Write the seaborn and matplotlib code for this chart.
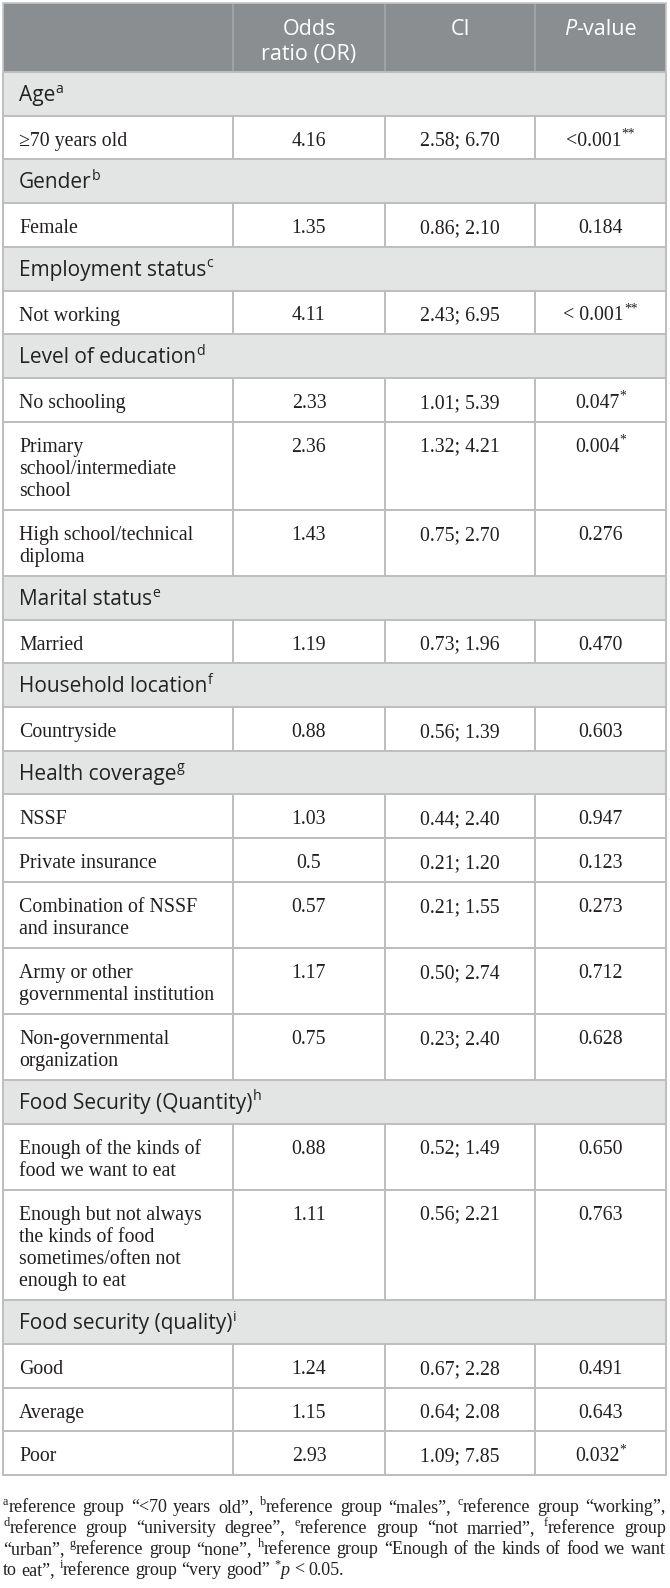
import numpy as np
import matplotlib
matplotlib.use("Agg")
import matplotlib.pyplot as plt
import seaborn as sns
from matplotlib.patches import Rectangle

# table content
header_labels = ["Odds\nratio (OR)", "CI", "P-value"]

section_names = ["Age", "Gender", "Employment status", "Level of education",
                 "Marital status", "Household location", "Health coverage",
                 "Food Security (Quantity)", "Food security (quality)"]
section_notes = ["a", "b", "c", "d", "e", "f", "g", "h", "i"]

row_labels = [
    "\u226570 years old",
    "Female",
    "Not working",
    "No schooling",
    "Primary\nschool/intermediate\nschool",
    "High school/technical\ndiploma",
    "Married",
    "Countryside",
    "NSSF",
    "Private insurance",
    "Combination of NSSF\nand insurance",
    "Army or other\ngovernmental institution",
    "Non-governmental\norganization",
    "Enough of the kinds of\nfood we want to eat",
    "Enough but not always\nthe kinds of food\nsometimes/often not\nenough to eat",
    "Good",
    "Average",
    "Poor",
]
row_section = [0, 1, 2, 3, 3, 3, 4, 5, 6, 6, 6, 6, 6, 7, 7, 8, 8, 8]
odds_ratio = [4.16, 1.35, 4.11, 2.33, 2.36, 1.43, 1.19, 0.88, 1.03, 0.5,
              0.57, 1.17, 0.75, 0.88, 1.11, 1.24, 1.15, 2.93]
ci_low = [2.58, 0.86, 2.43, 1.01, 1.32, 0.75, 0.73, 0.56, 0.44, 0.21,
          0.21, 0.50, 0.23, 0.52, 0.56, 0.67, 0.64, 1.09]
ci_high = [6.70, 2.10, 6.95, 5.39, 4.21, 2.70, 1.96, 1.39, 2.40, 1.20,
           1.55, 2.74, 2.40, 1.49, 2.21, 2.28, 2.08, 7.85]
p_values = ["<0.001", "0.184", "< 0.001", "0.047", "0.004", "0.276", "0.470",
            "0.603", "0.947", "0.123", "0.273", "0.712", "0.628", "0.650",
            "0.763", "0.491", "0.643", "0.032"]
p_stars = ["**", "", "**", "*", "*", "", "", "", "", "", "", "", "", "", "",
           "", "", "*"]

# ^x = superscript char, ~ = rest of word italic
footnote_lines = [
    "^areference group \u201c<70 years old\u201d, ^breference group \u201cmales\u201d, ^creference group \u201cworking\u201d,",
    "^dreference group \u201cuniversity degree\u201d, ^ereference group \u201cnot married\u201d, ^freference group",
    "\u201curban\u201d, ^greference group \u201cnone\u201d, ^hreference group \u201cEnough of the kinds of food we want",
    "to eat\u201d, ^ireference group \u201cvery good\u201d ^*~p < 0.05.",
]

sns.set_theme(style="white")
SERIF = ["Liberation Serif", "DejaVu Serif"]
SANS = ["Open Sans", "DejaVu Sans"]
plt.rcParams["font.family"] = SERIF

HEADER_BG = "#8b8e90"
HEADER_SEP = "#a5a8aa"
SECTION_BG = "#e3e4e4"
GRID = "#bdbdbd"
TEXT = "#231f20"
PT = 100 / 72

fig = plt.figure(figsize=(6.7, 15.88), dpi=100)
ax = fig.add_axes([0, 0, 1, 1])
ax.set_xlim(0, 670)
ax.set_ylim(1588, 0)
ax.axis("off")
renderer = fig.canvas.get_renderer()

col_edges = [3, 233, 385, 535, 666]
col_centers = [(col_edges[i] + col_edges[i + 1]) / 2 for i in range(1, 4)]
LEFT_PAD = 16
ROW_H = 43.7
LINE_H = 22.3
TOP = 3
HEADER_H = 69


def rich(x, base_y, segs, size, family, color=TEXT, ha="left"):
    arts = []
    for txt, kind in segs:
        fs = size * 0.68 if kind == "sup" else size
        dy = -size * PT * 0.40 if kind == "sup" else 0
        t = ax.text(0, base_y + dy, txt, fontsize=fs, family=family,
                    style="italic" if kind == "it" else "normal",
                    color=color, va="baseline", ha="left")
        arts.append(t)
    widths = [a.get_window_extent(renderer).width for a in arts]
    total = sum(widths)
    if ha == "center":
        x0 = x - total / 2
    elif ha == "right":
        x0 = x - total
    else:
        x0 = x
    for a, w in zip(arts, widths):
        a.set_x(x0)
        x0 += w
    return arts, total


def parse_word(word):
    segs = []
    i = 0
    buf = ""
    while i < len(word):
        c = word[i]
        if c == "^":
            if buf:
                segs.append((buf, "n"))
                buf = ""
            segs.append((word[i + 1], "sup"))
            i += 2
            continue
        if c == "~":
            if buf:
                segs.append((buf, "n"))
                buf = ""
            segs.append((word[i + 1:], "it"))
            break
        buf += c
        i += 1
    if buf:
        segs.append((buf, "n"))
    return segs


# ---- layout of rows
rows = []
y = TOP + HEADER_H
for s, name in enumerate(section_names):
    rows.append(("section", s, y, ROW_H))
    y += ROW_H
    for r in [i for i, rs in enumerate(row_section) if rs == s]:
        n_lines = row_labels[r].count("\n") + 1
        h = ROW_H + LINE_H * (n_lines - 1)
        rows.append(("data", r, y, h))
        y += h
table_bottom = y

# ---- header
ax.add_patch(Rectangle((col_edges[0], TOP), col_edges[-1] - col_edges[0], HEADER_H,
                       facecolor=HEADER_BG, edgecolor="none"))
for xe in col_edges[1:-1]:
    ax.plot([xe, xe], [TOP, TOP + HEADER_H], color=HEADER_SEP, lw=1.2)
ax.plot([col_edges[0], col_edges[-1]], [TOP, TOP], color="#c4c6c7", lw=1.2)
hdr_size = 15.5
hdr_base = TOP + 32
for j, lab in enumerate(header_labels):
    cx = col_centers[j]
    if lab.startswith("P-"):
        rich(cx, hdr_base, [("P", "it"), ("-value", "n")], hdr_size, SANS,
             color="white", ha="center")
    else:
        for k, line in enumerate(lab.split("\n")):
            ax.text(cx, hdr_base + k * 25, line, fontsize=hdr_size, family=SANS,
                    color="white", ha="center", va="baseline")

# ---- body
sec_size = 15
data_size = 14.3
for kind, idx, top, h in rows:
    if kind == "section":
        ax.add_patch(Rectangle((col_edges[0], top), col_edges[-1] - col_edges[0], h,
                               facecolor=SECTION_BG, edgecolor="none"))
        rich(col_edges[0] + LEFT_PAD, top + 29,
             [(section_names[idx], "n"), (section_notes[idx], "sup")],
             sec_size, SANS, color="#222222")
    else:
        for xe in col_edges[1:-1]:
            ax.plot([xe, xe], [top, top + h], color=GRID, lw=1.4)
        base = top + 30
        for k, line in enumerate(row_labels[idx].split("\n")):
            ax.text(col_edges[0] + LEFT_PAD, base + k * LINE_H, line,
                    fontsize=data_size, family=SERIF, color=TEXT,
                    ha="left", va="baseline")
        ax.text(col_centers[0], base, f"{odds_ratio[idx]:g}", fontsize=data_size,
                family=SERIF, color=TEXT, ha="center", va="baseline")
        ax.text(col_centers[1], base, f"{ci_low[idx]:.2f}; {ci_high[idx]:.2f}",
                fontsize=data_size, family=SERIF, color=TEXT, ha="center",
                va="baseline")
        segs = [(p_values[idx], "n")]
        if p_stars[idx]:
            segs.append((p_stars[idx], "sup"))
        rich(col_centers[2], base, segs, data_size, SERIF, ha="center")

# horizontal grid lines
for kind, idx, top, h in rows:
    ax.plot([col_edges[0], col_edges[-1]], [top, top], color=GRID, lw=1.4)
ax.plot([col_edges[0], col_edges[-1]], [table_bottom, table_bottom], color=GRID, lw=1.4)
# outer borders
for xe in (col_edges[0], col_edges[-1]):
    ax.plot([xe, xe], [TOP + HEADER_H, table_bottom], color=GRID, lw=1.4)
    ax.plot([xe, xe], [TOP, TOP + HEADER_H], color="#c4c6c7", lw=1.2)

# ---- footnote (justified)
fn_left, fn_right = 3, 666


def space_width(size):
    t1 = ax.text(0, 0, "x x", fontsize=size, family=SERIF)
    t2 = ax.text(0, 0, "xx", fontsize=size, family=SERIF)
    w = t1.get_window_extent(renderer).width - t2.get_window_extent(renderer).width
    t1.remove()
    t2.remove()
    return w


# pick a size so the first line sets a little loose, as in print
probe = 10
words0 = footnote_lines[0].split(" ")
natural = 0
for w in words0:
    arts, tw = rich(0, 0, parse_word(w), probe, SERIF)
    natural += tw
    for a in arts:
        a.remove()
natural += space_width(probe) * (len(words0) - 1)
fn_size = probe * 640 / natural
space_w = space_width(fn_size)
fn_base = table_bottom + 37

for li, line in enumerate(footnote_lines):
    words = line.split(" ")
    groups = []
    widths = []
    for w in words:
        arts, tw = rich(0, fn_base + li * 21, parse_word(w), fn_size, SERIF)
        groups.append(arts)
        widths.append(tw)
    last = li == len(footnote_lines) - 1
    if last or len(words) < 2:
        gap = space_w
    else:
        gap = max((fn_right - fn_left - sum(widths)) / (len(words) - 1), 0.7 * space_w)
    x = fn_left
    for arts, tw in zip(groups, widths):
        for a in arts:
            a.set_x(a.get_position()[0] + x)
        x += tw + gap

fig.savefig("out.png", dpi=100)
